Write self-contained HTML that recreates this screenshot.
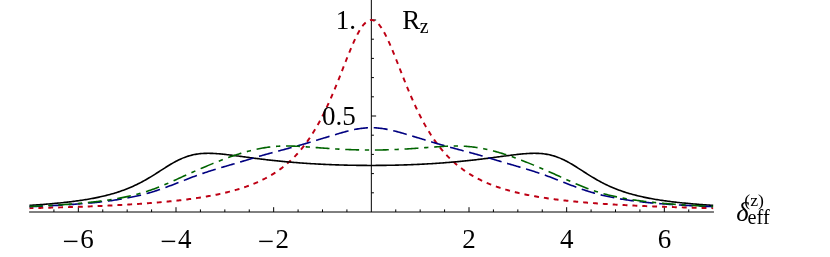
<!DOCTYPE html>
<html><head><meta charset="utf-8"><title>plot</title>
<style>html,body{margin:0;padding:0;background:#fff;}body{width:830px;height:257px;position:relative;overflow:hidden;font-family:"Liberation Serif",serif;}</style>
</head><body>
<svg width="830" height="257" viewBox="0 0 830 257" style="position:absolute;left:0;top:0;will-change:transform">
<g stroke="#000" stroke-width="1" fill="none">
<line x1="29.10" y1="212.00" x2="713.96" y2="212.00"/>
<line x1="371.33" y1="0" x2="371.33" y2="212.00"/>
<line x1="53.92" y1="212.00" x2="53.92" y2="209.40"/>
<line x1="78.33" y1="212.00" x2="78.33" y2="207.20"/>
<line x1="102.75" y1="212.00" x2="102.75" y2="209.40"/>
<line x1="127.16" y1="212.00" x2="127.16" y2="209.40"/>
<line x1="151.58" y1="212.00" x2="151.58" y2="209.40"/>
<line x1="176.00" y1="212.00" x2="176.00" y2="207.20"/>
<line x1="200.41" y1="212.00" x2="200.41" y2="209.40"/>
<line x1="224.83" y1="212.00" x2="224.83" y2="209.40"/>
<line x1="249.25" y1="212.00" x2="249.25" y2="209.40"/>
<line x1="273.66" y1="212.00" x2="273.66" y2="207.20"/>
<line x1="298.08" y1="212.00" x2="298.08" y2="209.40"/>
<line x1="322.50" y1="212.00" x2="322.50" y2="209.40"/>
<line x1="346.91" y1="212.00" x2="346.91" y2="209.40"/>
<line x1="395.75" y1="212.00" x2="395.75" y2="209.40"/>
<line x1="420.16" y1="212.00" x2="420.16" y2="209.40"/>
<line x1="444.58" y1="212.00" x2="444.58" y2="209.40"/>
<line x1="469.00" y1="212.00" x2="469.00" y2="207.20"/>
<line x1="493.41" y1="212.00" x2="493.41" y2="209.40"/>
<line x1="517.83" y1="212.00" x2="517.83" y2="209.40"/>
<line x1="542.25" y1="212.00" x2="542.25" y2="209.40"/>
<line x1="566.66" y1="212.00" x2="566.66" y2="207.20"/>
<line x1="591.08" y1="212.00" x2="591.08" y2="209.40"/>
<line x1="615.50" y1="212.00" x2="615.50" y2="209.40"/>
<line x1="639.91" y1="212.00" x2="639.91" y2="209.40"/>
<line x1="664.33" y1="212.00" x2="664.33" y2="207.20"/>
<line x1="688.74" y1="212.00" x2="688.74" y2="209.40"/>
<line x1="371.33" y1="192.80" x2="373.93" y2="192.80"/>
<line x1="371.33" y1="173.60" x2="373.93" y2="173.60"/>
<line x1="371.33" y1="154.40" x2="373.93" y2="154.40"/>
<line x1="371.33" y1="135.20" x2="373.93" y2="135.20"/>
<line x1="371.33" y1="116.00" x2="376.13" y2="116.00"/>
<line x1="371.33" y1="96.80" x2="373.93" y2="96.80"/>
<line x1="371.33" y1="77.60" x2="373.93" y2="77.60"/>
<line x1="371.33" y1="58.40" x2="373.93" y2="58.40"/>
<line x1="371.33" y1="39.20" x2="373.93" y2="39.20"/>
<line x1="371.33" y1="20.00" x2="376.13" y2="20.00"/>
</g>
<g fill="none" stroke-linecap="butt" stroke-linejoin="round">
<path d="M29.50,208.16 L30.72,208.13 L31.94,208.11 L33.16,208.08 L34.38,208.05 L35.60,208.02 L36.82,207.99 L38.04,207.96 L39.27,207.94 L40.49,207.91 L41.71,207.88 L42.93,207.85 L44.15,207.82 L45.37,207.79 L46.59,207.75 L47.81,207.72 L49.03,207.69 L50.25,207.66 L51.47,207.63 L52.69,207.59 L53.92,207.56 L55.14,207.53 L56.36,207.49 L57.58,207.46 L58.80,207.42 L60.02,207.39 L61.24,207.35 L62.46,207.32 L63.68,207.28 L64.90,207.24 L66.12,207.21 L67.34,207.17 L68.57,207.13 L69.79,207.09 L71.01,207.05 L72.23,207.02 L73.45,206.98 L74.67,206.93 L75.89,206.89 L77.11,206.85 L78.33,206.81 L79.55,206.77 L80.77,206.73 L81.99,206.68 L83.22,206.64 L84.44,206.59 L85.66,206.55 L86.88,206.50 L88.10,206.46 L89.32,206.41 L90.54,206.36 L91.76,206.32 L92.98,206.27 L94.20,206.22 L95.42,206.17 L96.64,206.12 L97.87,206.07 L99.09,206.02 L100.31,205.96 L101.53,205.91 L102.75,205.86 L103.97,205.80 L105.19,205.75 L106.41,205.69 L107.63,205.63 L108.85,205.58 L110.07,205.52 L111.29,205.46 L112.52,205.40 L113.74,205.34 L114.96,205.28 L116.18,205.22 L117.40,205.15 L118.62,205.09 L119.84,205.02 L121.06,204.96 L122.28,204.89 L123.50,204.82 L124.72,204.76 L125.94,204.69 L127.16,204.62 L128.39,204.54 L129.61,204.47 L130.83,204.40 L132.05,204.32 L133.27,204.25 L134.49,204.17 L135.71,204.09 L136.93,204.01 L138.15,203.93 L139.37,203.85 L140.59,203.77 L141.81,203.68 L143.04,203.60 L144.26,203.51 L145.48,203.42 L146.70,203.34 L147.92,203.25 L149.14,203.15 L150.36,203.06 L151.58,202.96 L152.80,202.87 L154.02,202.77 L155.24,202.67 L156.46,202.57 L157.69,202.47 L158.91,202.36 L160.13,202.26 L161.35,202.15 L162.57,202.04 L163.79,201.93 L165.01,201.81 L166.23,201.70 L167.45,201.58 L168.67,201.46 L169.89,201.34 L171.11,201.22 L172.34,201.09 L173.56,200.97 L174.78,200.84 L176.00,200.71 L177.22,200.57 L178.44,200.44 L179.66,200.30 L180.88,200.16 L182.10,200.01 L183.32,199.87 L184.54,199.72 L185.76,199.56 L186.99,199.41 L188.21,199.25 L189.43,199.09 L190.65,198.93 L191.87,198.76 L193.09,198.59 L194.31,198.42 L195.53,198.25 L196.75,198.07 L197.97,197.88 L199.19,197.70 L200.41,197.51 L201.64,197.32 L202.86,197.12 L204.08,196.92 L205.30,196.71 L206.52,196.50 L207.74,196.29 L208.96,196.07 L210.18,195.85 L211.40,195.63 L212.62,195.39 L213.84,195.16 L215.06,194.92 L216.29,194.67 L217.51,194.42 L218.73,194.17 L219.95,193.90 L221.17,193.64 L222.39,193.36 L223.61,193.08 L224.83,192.80 L226.05,192.51 L227.27,192.21 L228.49,191.91 L229.71,191.60 L230.94,191.28 L232.16,190.95 L233.38,190.62 L234.60,190.28 L235.82,189.93 L237.04,189.58 L238.26,189.21 L239.48,188.84 L240.70,188.46 L241.92,188.07 L243.14,187.67 L244.36,187.26 L245.59,186.84 L246.81,186.41 L248.03,185.97 L249.25,185.52 L250.47,185.05 L251.69,184.58 L252.91,184.10 L254.13,183.60 L255.35,183.09 L256.57,182.56 L257.79,182.03 L259.01,181.48 L260.23,180.91 L261.46,180.33 L262.68,179.73 L263.90,179.12 L265.12,178.50 L266.34,177.85 L267.56,177.19 L268.78,176.51 L270.00,175.81 L271.22,175.09 L272.44,174.36 L273.66,173.60 L274.88,172.82 L276.11,172.02 L277.33,171.20 L278.55,170.35 L279.77,169.48 L280.99,168.59 L282.21,167.66 L283.43,166.72 L284.65,165.74 L285.87,164.74 L287.09,163.71 L288.31,162.64 L289.53,161.55 L290.76,160.42 L291.98,159.26 L293.20,158.07 L294.42,156.84 L295.64,155.57 L296.86,154.27 L298.08,152.92 L299.30,151.54 L300.52,150.11 L301.74,148.65 L302.96,147.14 L304.18,145.58 L305.41,143.98 L306.63,142.32 L307.85,140.62 L309.07,138.87 L310.29,137.07 L311.51,135.22 L312.73,133.31 L313.95,131.35 L315.17,129.33 L316.39,127.26 L317.61,125.12 L318.83,122.93 L320.06,120.68 L321.28,118.37 L322.50,116.00 L323.72,113.57 L324.94,111.08 L326.16,108.53 L327.38,105.92 L328.60,103.26 L329.82,100.53 L331.04,97.76 L332.26,94.93 L333.48,92.05 L334.71,89.12 L335.93,86.15 L337.15,83.14 L338.37,80.10 L339.59,77.03 L340.81,73.93 L342.03,70.82 L343.25,67.71 L344.47,64.59 L345.69,61.49 L346.91,58.40 L348.13,55.35 L349.36,52.33 L350.58,49.37 L351.80,46.48 L353.02,43.67 L354.24,40.95 L355.46,38.34 L356.68,35.85 L357.90,33.50 L359.12,31.29 L360.34,29.25 L361.56,27.38 L362.78,25.71 L364.01,24.22 L365.23,22.95 L366.45,21.90 L367.67,21.07 L368.89,20.48 L370.11,20.12 L371.33,20.00 L372.55,20.12 L373.77,20.48 L374.99,21.07 L376.21,21.90 L377.43,22.95 L378.65,24.22 L379.88,25.71 L381.10,27.38 L382.32,29.25 L383.54,31.29 L384.76,33.50 L385.98,35.85 L387.20,38.34 L388.42,40.95 L389.64,43.67 L390.86,46.48 L392.08,49.37 L393.30,52.33 L394.53,55.35 L395.75,58.40 L396.97,61.49 L398.19,64.59 L399.41,67.71 L400.63,70.82 L401.85,73.93 L403.07,77.03 L404.29,80.10 L405.51,83.14 L406.73,86.15 L407.95,89.12 L409.18,92.05 L410.40,94.93 L411.62,97.76 L412.84,100.53 L414.06,103.26 L415.28,105.92 L416.50,108.53 L417.72,111.08 L418.94,113.57 L420.16,116.00 L421.38,118.37 L422.60,120.68 L423.83,122.93 L425.05,125.12 L426.27,127.26 L427.49,129.33 L428.71,131.35 L429.93,133.31 L431.15,135.22 L432.37,137.07 L433.59,138.87 L434.81,140.62 L436.03,142.32 L437.25,143.98 L438.48,145.58 L439.70,147.14 L440.92,148.65 L442.14,150.11 L443.36,151.54 L444.58,152.92 L445.80,154.27 L447.02,155.57 L448.24,156.84 L449.46,158.07 L450.68,159.26 L451.90,160.42 L453.13,161.55 L454.35,162.64 L455.57,163.71 L456.79,164.74 L458.01,165.74 L459.23,166.72 L460.45,167.66 L461.67,168.59 L462.89,169.48 L464.11,170.35 L465.33,171.20 L466.55,172.02 L467.78,172.82 L469.00,173.60 L470.22,174.36 L471.44,175.09 L472.66,175.81 L473.88,176.51 L475.10,177.19 L476.32,177.85 L477.54,178.50 L478.76,179.12 L479.98,179.73 L481.20,180.33 L482.43,180.91 L483.65,181.48 L484.87,182.03 L486.09,182.56 L487.31,183.09 L488.53,183.60 L489.75,184.10 L490.97,184.58 L492.19,185.05 L493.41,185.52 L494.63,185.97 L495.85,186.41 L497.07,186.84 L498.30,187.26 L499.52,187.67 L500.74,188.07 L501.96,188.46 L503.18,188.84 L504.40,189.21 L505.62,189.58 L506.84,189.93 L508.06,190.28 L509.28,190.62 L510.50,190.95 L511.72,191.28 L512.95,191.60 L514.17,191.91 L515.39,192.21 L516.61,192.51 L517.83,192.80 L519.05,193.08 L520.27,193.36 L521.49,193.64 L522.71,193.90 L523.93,194.17 L525.15,194.42 L526.37,194.67 L527.60,194.92 L528.82,195.16 L530.04,195.39 L531.26,195.63 L532.48,195.85 L533.70,196.07 L534.92,196.29 L536.14,196.50 L537.36,196.71 L538.58,196.92 L539.80,197.12 L541.02,197.32 L542.25,197.51 L543.47,197.70 L544.69,197.88 L545.91,198.07 L547.13,198.25 L548.35,198.42 L549.57,198.59 L550.79,198.76 L552.01,198.93 L553.23,199.09 L554.45,199.25 L555.67,199.41 L556.90,199.56 L558.12,199.72 L559.34,199.87 L560.56,200.01 L561.78,200.16 L563.00,200.30 L564.22,200.44 L565.44,200.57 L566.66,200.71 L567.88,200.84 L569.10,200.97 L570.32,201.09 L571.55,201.22 L572.77,201.34 L573.99,201.46 L575.21,201.58 L576.43,201.70 L577.65,201.81 L578.87,201.93 L580.09,202.04 L581.31,202.15 L582.53,202.26 L583.75,202.36 L584.97,202.47 L586.20,202.57 L587.42,202.67 L588.64,202.77 L589.86,202.87 L591.08,202.96 L592.30,203.06 L593.52,203.15 L594.74,203.25 L595.96,203.34 L597.18,203.42 L598.40,203.51 L599.62,203.60 L600.85,203.68 L602.07,203.77 L603.29,203.85 L604.51,203.93 L605.73,204.01 L606.95,204.09 L608.17,204.17 L609.39,204.25 L610.61,204.32 L611.83,204.40 L613.05,204.47 L614.27,204.54 L615.50,204.62 L616.72,204.69 L617.94,204.76 L619.16,204.82 L620.38,204.89 L621.60,204.96 L622.82,205.02 L624.04,205.09 L625.26,205.15 L626.48,205.22 L627.70,205.28 L628.92,205.34 L630.14,205.40 L631.37,205.46 L632.59,205.52 L633.81,205.58 L635.03,205.63 L636.25,205.69 L637.47,205.75 L638.69,205.80 L639.91,205.86 L641.13,205.91 L642.35,205.96 L643.57,206.02 L644.79,206.07 L646.02,206.12 L647.24,206.17 L648.46,206.22 L649.68,206.27 L650.90,206.32 L652.12,206.36 L653.34,206.41 L654.56,206.46 L655.78,206.50 L657.00,206.55 L658.22,206.59 L659.44,206.64 L660.67,206.68 L661.89,206.73 L663.11,206.77 L664.33,206.81 L665.55,206.85 L666.77,206.89 L667.99,206.93 L669.21,206.98 L670.43,207.02 L671.65,207.05 L672.87,207.09 L674.09,207.13 L675.32,207.17 L676.54,207.21 L677.76,207.24 L678.98,207.28 L680.20,207.32 L681.42,207.35 L682.64,207.39 L683.86,207.42 L685.08,207.46 L686.30,207.49 L687.52,207.53 L688.74,207.56 L689.97,207.59 L691.19,207.63 L692.41,207.66 L693.63,207.69 L694.85,207.72 L696.07,207.75 L697.29,207.79 L698.51,207.82 L699.73,207.85 L700.95,207.88 L702.17,207.91 L703.39,207.94 L704.62,207.96 L705.84,207.99 L707.06,208.02 L708.28,208.05 L709.50,208.08 L710.72,208.11 L711.94,208.13 L713.16,208.16" stroke="#BE0014" stroke-width="1.95" stroke-dasharray="4.9 4.98" stroke-dashoffset="1.0"/>
<path d="M29.50,205.35 L30.72,205.27 L31.94,205.19 L33.16,205.12 L34.38,205.04 L35.60,204.95 L36.82,204.87 L38.04,204.78 L39.27,204.70 L40.49,204.61 L41.71,204.52 L42.93,204.43 L44.15,204.33 L45.37,204.24 L46.59,204.14 L47.81,204.04 L49.03,203.94 L50.25,203.84 L51.47,203.73 L52.69,203.63 L53.92,203.52 L55.14,203.40 L56.36,203.29 L57.58,203.17 L58.80,203.05 L60.02,202.93 L61.24,202.81 L62.46,202.68 L63.68,202.55 L64.90,202.42 L66.12,202.28 L67.34,202.14 L68.57,202.00 L69.79,201.86 L71.01,201.71 L72.23,201.56 L73.45,201.40 L74.67,201.24 L75.89,201.08 L77.11,200.91 L78.33,200.74 L79.55,200.57 L80.77,200.39 L81.99,200.21 L83.22,200.02 L84.44,199.83 L85.66,199.63 L86.88,199.43 L88.10,199.22 L89.32,199.01 L90.54,198.79 L91.76,198.57 L92.98,198.34 L94.20,198.11 L95.42,197.87 L96.64,197.62 L97.87,197.37 L99.09,197.11 L100.31,196.84 L101.53,196.57 L102.75,196.29 L103.97,196.00 L105.19,195.71 L106.41,195.40 L107.63,195.09 L108.85,194.77 L110.07,194.44 L111.29,194.10 L112.52,193.75 L113.74,193.40 L114.96,193.03 L116.18,192.65 L117.40,192.26 L118.62,191.87 L119.84,191.46 L121.06,191.04 L122.28,190.61 L123.50,190.16 L124.72,189.71 L125.94,189.24 L127.16,188.76 L128.39,188.27 L129.61,187.76 L130.83,187.24 L132.05,186.71 L133.27,186.16 L134.49,185.60 L135.71,185.03 L136.93,184.44 L138.15,183.84 L139.37,183.22 L140.59,182.59 L141.81,181.95 L143.04,181.29 L144.26,180.62 L145.48,179.93 L146.70,179.24 L147.92,178.53 L149.14,177.81 L150.36,177.08 L151.58,176.33 L152.80,175.58 L154.02,174.82 L155.24,174.06 L156.46,173.28 L157.69,172.50 L158.91,171.72 L160.13,170.94 L161.35,170.15 L162.57,169.37 L163.79,168.59 L165.01,167.81 L166.23,167.04 L167.45,166.27 L168.67,165.52 L169.89,164.78 L171.11,164.05 L172.34,163.34 L173.56,162.64 L174.78,161.96 L176.00,161.31 L177.22,160.67 L178.44,160.06 L179.66,159.47 L180.88,158.91 L182.10,158.38 L183.32,157.87 L184.54,157.39 L185.76,156.94 L186.99,156.51 L188.21,156.12 L189.43,155.75 L190.65,155.41 L191.87,155.10 L193.09,154.82 L194.31,154.57 L195.53,154.34 L196.75,154.13 L197.97,153.96 L199.19,153.80 L200.41,153.67 L201.64,153.56 L202.86,153.47 L204.08,153.41 L205.30,153.36 L206.52,153.33 L207.74,153.31 L208.96,153.32 L210.18,153.33 L211.40,153.37 L212.62,153.41 L213.84,153.47 L215.06,153.54 L216.29,153.62 L217.51,153.71 L218.73,153.80 L219.95,153.91 L221.17,154.02 L222.39,154.14 L223.61,154.27 L224.83,154.40 L226.05,154.54 L227.27,154.68 L228.49,154.82 L229.71,154.97 L230.94,155.12 L232.16,155.28 L233.38,155.44 L234.60,155.59 L235.82,155.76 L237.04,155.92 L238.26,156.08 L239.48,156.24 L240.70,156.41 L241.92,156.57 L243.14,156.74 L244.36,156.90 L245.59,157.07 L246.81,157.23 L248.03,157.39 L249.25,157.55 L250.47,157.72 L251.69,157.88 L252.91,158.04 L254.13,158.19 L255.35,158.35 L256.57,158.51 L257.79,158.66 L259.01,158.81 L260.23,158.97 L261.46,159.12 L262.68,159.26 L263.90,159.41 L265.12,159.56 L266.34,159.70 L267.56,159.84 L268.78,159.98 L270.00,160.12 L271.22,160.25 L272.44,160.39 L273.66,160.52 L274.88,160.65 L276.11,160.78 L277.33,160.90 L278.55,161.03 L279.77,161.15 L280.99,161.27 L282.21,161.39 L283.43,161.51 L284.65,161.62 L285.87,161.73 L287.09,161.85 L288.31,161.95 L289.53,162.06 L290.76,162.17 L291.98,162.27 L293.20,162.37 L294.42,162.47 L295.64,162.57 L296.86,162.67 L298.08,162.76 L299.30,162.85 L300.52,162.94 L301.74,163.03 L302.96,163.12 L304.18,163.20 L305.41,163.29 L306.63,163.37 L307.85,163.45 L309.07,163.53 L310.29,163.60 L311.51,163.68 L312.73,163.75 L313.95,163.82 L315.17,163.89 L316.39,163.96 L317.61,164.03 L318.83,164.09 L320.06,164.16 L321.28,164.22 L322.50,164.28 L323.72,164.34 L324.94,164.39 L326.16,164.45 L327.38,164.50 L328.60,164.55 L329.82,164.60 L331.04,164.65 L332.26,164.70 L333.48,164.75 L334.71,164.79 L335.93,164.83 L337.15,164.87 L338.37,164.91 L339.59,164.95 L340.81,164.99 L342.03,165.02 L343.25,165.06 L344.47,165.09 L345.69,165.12 L346.91,165.15 L348.13,165.18 L349.36,165.20 L350.58,165.23 L351.80,165.25 L353.02,165.27 L354.24,165.29 L355.46,165.31 L356.68,165.33 L357.90,165.35 L359.12,165.36 L360.34,165.38 L361.56,165.39 L362.78,165.40 L364.01,165.41 L365.23,165.42 L366.45,165.42 L367.67,165.43 L368.89,165.43 L370.11,165.43 L371.33,165.43 L372.55,165.43 L373.77,165.43 L374.99,165.43 L376.21,165.42 L377.43,165.42 L378.65,165.41 L379.88,165.40 L381.10,165.39 L382.32,165.38 L383.54,165.36 L384.76,165.35 L385.98,165.33 L387.20,165.31 L388.42,165.29 L389.64,165.27 L390.86,165.25 L392.08,165.23 L393.30,165.20 L394.53,165.18 L395.75,165.15 L396.97,165.12 L398.19,165.09 L399.41,165.06 L400.63,165.02 L401.85,164.99 L403.07,164.95 L404.29,164.91 L405.51,164.87 L406.73,164.83 L407.95,164.79 L409.18,164.75 L410.40,164.70 L411.62,164.65 L412.84,164.60 L414.06,164.55 L415.28,164.50 L416.50,164.45 L417.72,164.39 L418.94,164.34 L420.16,164.28 L421.38,164.22 L422.60,164.16 L423.83,164.09 L425.05,164.03 L426.27,163.96 L427.49,163.89 L428.71,163.82 L429.93,163.75 L431.15,163.68 L432.37,163.60 L433.59,163.53 L434.81,163.45 L436.03,163.37 L437.25,163.29 L438.48,163.20 L439.70,163.12 L440.92,163.03 L442.14,162.94 L443.36,162.85 L444.58,162.76 L445.80,162.67 L447.02,162.57 L448.24,162.47 L449.46,162.37 L450.68,162.27 L451.90,162.17 L453.13,162.06 L454.35,161.95 L455.57,161.85 L456.79,161.73 L458.01,161.62 L459.23,161.51 L460.45,161.39 L461.67,161.27 L462.89,161.15 L464.11,161.03 L465.33,160.90 L466.55,160.78 L467.78,160.65 L469.00,160.52 L470.22,160.39 L471.44,160.25 L472.66,160.12 L473.88,159.98 L475.10,159.84 L476.32,159.70 L477.54,159.56 L478.76,159.41 L479.98,159.26 L481.20,159.12 L482.43,158.97 L483.65,158.81 L484.87,158.66 L486.09,158.51 L487.31,158.35 L488.53,158.19 L489.75,158.04 L490.97,157.88 L492.19,157.72 L493.41,157.55 L494.63,157.39 L495.85,157.23 L497.07,157.07 L498.30,156.90 L499.52,156.74 L500.74,156.57 L501.96,156.41 L503.18,156.24 L504.40,156.08 L505.62,155.92 L506.84,155.76 L508.06,155.59 L509.28,155.44 L510.50,155.28 L511.72,155.12 L512.95,154.97 L514.17,154.82 L515.39,154.68 L516.61,154.54 L517.83,154.40 L519.05,154.27 L520.27,154.14 L521.49,154.02 L522.71,153.91 L523.93,153.80 L525.15,153.71 L526.37,153.62 L527.60,153.54 L528.82,153.47 L530.04,153.41 L531.26,153.37 L532.48,153.33 L533.70,153.32 L534.92,153.31 L536.14,153.33 L537.36,153.36 L538.58,153.41 L539.80,153.47 L541.02,153.56 L542.25,153.67 L543.47,153.80 L544.69,153.96 L545.91,154.13 L547.13,154.34 L548.35,154.57 L549.57,154.82 L550.79,155.10 L552.01,155.41 L553.23,155.75 L554.45,156.12 L555.67,156.51 L556.90,156.94 L558.12,157.39 L559.34,157.87 L560.56,158.38 L561.78,158.91 L563.00,159.47 L564.22,160.06 L565.44,160.67 L566.66,161.31 L567.88,161.96 L569.10,162.64 L570.32,163.34 L571.55,164.05 L572.77,164.78 L573.99,165.52 L575.21,166.27 L576.43,167.04 L577.65,167.81 L578.87,168.59 L580.09,169.37 L581.31,170.15 L582.53,170.94 L583.75,171.72 L584.97,172.50 L586.20,173.28 L587.42,174.06 L588.64,174.82 L589.86,175.58 L591.08,176.33 L592.30,177.08 L593.52,177.81 L594.74,178.53 L595.96,179.24 L597.18,179.93 L598.40,180.62 L599.62,181.29 L600.85,181.95 L602.07,182.59 L603.29,183.22 L604.51,183.84 L605.73,184.44 L606.95,185.03 L608.17,185.60 L609.39,186.16 L610.61,186.71 L611.83,187.24 L613.05,187.76 L614.27,188.27 L615.50,188.76 L616.72,189.24 L617.94,189.71 L619.16,190.16 L620.38,190.61 L621.60,191.04 L622.82,191.46 L624.04,191.87 L625.26,192.26 L626.48,192.65 L627.70,193.03 L628.92,193.40 L630.14,193.75 L631.37,194.10 L632.59,194.44 L633.81,194.77 L635.03,195.09 L636.25,195.40 L637.47,195.71 L638.69,196.00 L639.91,196.29 L641.13,196.57 L642.35,196.84 L643.57,197.11 L644.79,197.37 L646.02,197.62 L647.24,197.87 L648.46,198.11 L649.68,198.34 L650.90,198.57 L652.12,198.79 L653.34,199.01 L654.56,199.22 L655.78,199.43 L657.00,199.63 L658.22,199.83 L659.44,200.02 L660.67,200.21 L661.89,200.39 L663.11,200.57 L664.33,200.74 L665.55,200.91 L666.77,201.08 L667.99,201.24 L669.21,201.40 L670.43,201.56 L671.65,201.71 L672.87,201.86 L674.09,202.00 L675.32,202.14 L676.54,202.28 L677.76,202.42 L678.98,202.55 L680.20,202.68 L681.42,202.81 L682.64,202.93 L683.86,203.05 L685.08,203.17 L686.30,203.29 L687.52,203.40 L688.74,203.52 L689.97,203.63 L691.19,203.73 L692.41,203.84 L693.63,203.94 L694.85,204.04 L696.07,204.14 L697.29,204.24 L698.51,204.33 L699.73,204.43 L700.95,204.52 L702.17,204.61 L703.39,204.70 L704.62,204.78 L705.84,204.87 L707.06,204.95 L708.28,205.04 L709.50,205.12 L710.72,205.19 L711.94,205.27 L713.16,205.35" stroke="#000" stroke-width="1.6"/>
<path d="M29.50,206.62 L30.72,206.58 L31.94,206.53 L33.16,206.48 L34.38,206.43 L35.60,206.38 L36.82,206.33 L38.04,206.28 L39.27,206.23 L40.49,206.17 L41.71,206.12 L42.93,206.06 L44.15,206.01 L45.37,205.95 L46.59,205.89 L47.81,205.84 L49.03,205.78 L50.25,205.72 L51.47,205.65 L52.69,205.59 L53.92,205.53 L55.14,205.46 L56.36,205.40 L57.58,205.33 L58.80,205.26 L60.02,205.19 L61.24,205.12 L62.46,205.05 L63.68,204.97 L64.90,204.90 L66.12,204.82 L67.34,204.75 L68.57,204.67 L69.79,204.59 L71.01,204.50 L72.23,204.42 L73.45,204.33 L74.67,204.25 L75.89,204.16 L77.11,204.07 L78.33,203.98 L79.55,203.88 L80.77,203.79 L81.99,203.69 L83.22,203.59 L84.44,203.49 L85.66,203.38 L86.88,203.28 L88.10,203.17 L89.32,203.06 L90.54,202.94 L91.76,202.83 L92.98,202.71 L94.20,202.59 L95.42,202.47 L96.64,202.34 L97.87,202.21 L99.09,202.08 L100.31,201.95 L101.53,201.81 L102.75,201.67 L103.97,201.53 L105.19,201.38 L106.41,201.23 L107.63,201.07 L108.85,200.92 L110.07,200.76 L111.29,200.59 L112.52,200.42 L113.74,200.25 L114.96,200.07 L116.18,199.89 L117.40,199.71 L118.62,199.51 L119.84,199.32 L121.06,199.12 L122.28,198.92 L123.50,198.71 L124.72,198.49 L125.94,198.27 L127.16,198.05 L128.39,197.81 L129.61,197.58 L130.83,197.33 L132.05,197.08 L133.27,196.83 L134.49,196.57 L135.71,196.30 L136.93,196.02 L138.15,195.74 L139.37,195.45 L140.59,195.16 L141.81,194.86 L143.04,194.55 L144.26,194.23 L145.48,193.90 L146.70,193.57 L147.92,193.23 L149.14,192.88 L150.36,192.53 L151.58,192.16 L152.80,191.79 L154.02,191.42 L155.24,191.03 L156.46,190.63 L157.69,190.23 L158.91,189.82 L160.13,189.41 L161.35,188.99 L162.57,188.56 L163.79,188.12 L165.01,187.68 L166.23,187.23 L167.45,186.78 L168.67,186.32 L169.89,185.86 L171.11,185.39 L172.34,184.92 L173.56,184.44 L174.78,183.97 L176.00,183.49 L177.22,183.01 L178.44,182.53 L179.66,182.04 L180.88,181.56 L182.10,181.08 L183.32,180.60 L184.54,180.12 L185.76,179.65 L186.99,179.17 L188.21,178.70 L189.43,178.24 L190.65,177.77 L191.87,177.31 L193.09,176.86 L194.31,176.41 L195.53,175.96 L196.75,175.52 L197.97,175.08 L199.19,174.65 L200.41,174.22 L201.64,173.80 L202.86,173.38 L204.08,172.97 L205.30,172.56 L206.52,172.15 L207.74,171.75 L208.96,171.36 L210.18,170.97 L211.40,170.58 L212.62,170.20 L213.84,169.82 L215.06,169.44 L216.29,169.06 L217.51,168.69 L218.73,168.33 L219.95,167.96 L221.17,167.60 L222.39,167.23 L223.61,166.87 L224.83,166.51 L226.05,166.16 L227.27,165.80 L228.49,165.44 L229.71,165.08 L230.94,164.73 L232.16,164.37 L233.38,164.01 L234.60,163.66 L235.82,163.30 L237.04,162.94 L238.26,162.58 L239.48,162.22 L240.70,161.86 L241.92,161.49 L243.14,161.13 L244.36,160.77 L245.59,160.40 L246.81,160.03 L248.03,159.67 L249.25,159.30 L250.47,158.94 L251.69,158.57 L252.91,158.21 L254.13,157.84 L255.35,157.48 L256.57,157.12 L257.79,156.76 L259.01,156.40 L260.23,156.04 L261.46,155.69 L262.68,155.34 L263.90,154.99 L265.12,154.64 L266.34,154.30 L267.56,153.95 L268.78,153.62 L270.00,153.28 L271.22,152.94 L272.44,152.61 L273.66,152.28 L274.88,151.96 L276.11,151.63 L277.33,151.31 L278.55,150.98 L279.77,150.66 L280.99,150.34 L282.21,150.01 L283.43,149.69 L284.65,149.37 L285.87,149.04 L287.09,148.72 L288.31,148.39 L289.53,148.07 L290.76,147.74 L291.98,147.41 L293.20,147.07 L294.42,146.74 L295.64,146.40 L296.86,146.06 L298.08,145.72 L299.30,145.37 L300.52,145.02 L301.74,144.67 L302.96,144.32 L304.18,143.97 L305.41,143.61 L306.63,143.25 L307.85,142.89 L309.07,142.53 L310.29,142.17 L311.51,141.80 L312.73,141.43 L313.95,141.07 L315.17,140.70 L316.39,140.33 L317.61,139.96 L318.83,139.59 L320.06,139.22 L321.28,138.85 L322.50,138.48 L323.72,138.10 L324.94,137.73 L326.16,137.36 L327.38,136.99 L328.60,136.62 L329.82,136.25 L331.04,135.88 L332.26,135.51 L333.48,135.14 L334.71,134.77 L335.93,134.41 L337.15,134.04 L338.37,133.68 L339.59,133.33 L340.81,132.98 L342.03,132.63 L343.25,132.29 L344.47,131.95 L345.69,131.62 L346.91,131.30 L348.13,130.99 L349.36,130.69 L350.58,130.39 L351.80,130.11 L353.02,129.84 L354.24,129.58 L355.46,129.34 L356.68,129.11 L357.90,128.89 L359.12,128.70 L360.34,128.51 L361.56,128.35 L362.78,128.20 L364.01,128.08 L365.23,127.97 L366.45,127.88 L367.67,127.81 L368.89,127.76 L370.11,127.73 L371.33,127.72 L372.55,127.73 L373.77,127.76 L374.99,127.81 L376.21,127.88 L377.43,127.97 L378.65,128.08 L379.88,128.20 L381.10,128.35 L382.32,128.51 L383.54,128.70 L384.76,128.89 L385.98,129.11 L387.20,129.34 L388.42,129.58 L389.64,129.84 L390.86,130.11 L392.08,130.39 L393.30,130.69 L394.53,130.99 L395.75,131.30 L396.97,131.62 L398.19,131.95 L399.41,132.29 L400.63,132.63 L401.85,132.98 L403.07,133.33 L404.29,133.68 L405.51,134.04 L406.73,134.41 L407.95,134.77 L409.18,135.14 L410.40,135.51 L411.62,135.88 L412.84,136.25 L414.06,136.62 L415.28,136.99 L416.50,137.36 L417.72,137.73 L418.94,138.10 L420.16,138.48 L421.38,138.85 L422.60,139.22 L423.83,139.59 L425.05,139.96 L426.27,140.33 L427.49,140.70 L428.71,141.07 L429.93,141.43 L431.15,141.80 L432.37,142.17 L433.59,142.53 L434.81,142.89 L436.03,143.25 L437.25,143.61 L438.48,143.97 L439.70,144.32 L440.92,144.67 L442.14,145.02 L443.36,145.37 L444.58,145.72 L445.80,146.06 L447.02,146.40 L448.24,146.74 L449.46,147.07 L450.68,147.41 L451.90,147.74 L453.13,148.07 L454.35,148.39 L455.57,148.72 L456.79,149.04 L458.01,149.37 L459.23,149.69 L460.45,150.01 L461.67,150.34 L462.89,150.66 L464.11,150.98 L465.33,151.31 L466.55,151.63 L467.78,151.96 L469.00,152.28 L470.22,152.61 L471.44,152.94 L472.66,153.28 L473.88,153.62 L475.10,153.95 L476.32,154.30 L477.54,154.64 L478.76,154.99 L479.98,155.34 L481.20,155.69 L482.43,156.04 L483.65,156.40 L484.87,156.76 L486.09,157.12 L487.31,157.48 L488.53,157.84 L489.75,158.21 L490.97,158.57 L492.19,158.94 L493.41,159.30 L494.63,159.67 L495.85,160.03 L497.07,160.40 L498.30,160.77 L499.52,161.13 L500.74,161.49 L501.96,161.86 L503.18,162.22 L504.40,162.58 L505.62,162.94 L506.84,163.30 L508.06,163.66 L509.28,164.01 L510.50,164.37 L511.72,164.73 L512.95,165.08 L514.17,165.44 L515.39,165.80 L516.61,166.16 L517.83,166.51 L519.05,166.87 L520.27,167.23 L521.49,167.60 L522.71,167.96 L523.93,168.33 L525.15,168.69 L526.37,169.06 L527.60,169.44 L528.82,169.82 L530.04,170.20 L531.26,170.58 L532.48,170.97 L533.70,171.36 L534.92,171.75 L536.14,172.15 L537.36,172.56 L538.58,172.97 L539.80,173.38 L541.02,173.80 L542.25,174.22 L543.47,174.65 L544.69,175.08 L545.91,175.52 L547.13,175.96 L548.35,176.41 L549.57,176.86 L550.79,177.31 L552.01,177.77 L553.23,178.24 L554.45,178.70 L555.67,179.17 L556.90,179.65 L558.12,180.12 L559.34,180.60 L560.56,181.08 L561.78,181.56 L563.00,182.04 L564.22,182.53 L565.44,183.01 L566.66,183.49 L567.88,183.97 L569.10,184.44 L570.32,184.92 L571.55,185.39 L572.77,185.86 L573.99,186.32 L575.21,186.78 L576.43,187.23 L577.65,187.68 L578.87,188.12 L580.09,188.56 L581.31,188.99 L582.53,189.41 L583.75,189.82 L584.97,190.23 L586.20,190.63 L587.42,191.03 L588.64,191.42 L589.86,191.79 L591.08,192.16 L592.30,192.53 L593.52,192.88 L594.74,193.23 L595.96,193.57 L597.18,193.90 L598.40,194.23 L599.62,194.55 L600.85,194.86 L602.07,195.16 L603.29,195.45 L604.51,195.74 L605.73,196.02 L606.95,196.30 L608.17,196.57 L609.39,196.83 L610.61,197.08 L611.83,197.33 L613.05,197.58 L614.27,197.81 L615.50,198.05 L616.72,198.27 L617.94,198.49 L619.16,198.71 L620.38,198.92 L621.60,199.12 L622.82,199.32 L624.04,199.51 L625.26,199.71 L626.48,199.89 L627.70,200.07 L628.92,200.25 L630.14,200.42 L631.37,200.59 L632.59,200.76 L633.81,200.92 L635.03,201.07 L636.25,201.23 L637.47,201.38 L638.69,201.53 L639.91,201.67 L641.13,201.81 L642.35,201.95 L643.57,202.08 L644.79,202.21 L646.02,202.34 L647.24,202.47 L648.46,202.59 L649.68,202.71 L650.90,202.83 L652.12,202.94 L653.34,203.06 L654.56,203.17 L655.78,203.28 L657.00,203.38 L658.22,203.49 L659.44,203.59 L660.67,203.69 L661.89,203.79 L663.11,203.88 L664.33,203.98 L665.55,204.07 L666.77,204.16 L667.99,204.25 L669.21,204.33 L670.43,204.42 L671.65,204.50 L672.87,204.59 L674.09,204.67 L675.32,204.75 L676.54,204.82 L677.76,204.90 L678.98,204.97 L680.20,205.05 L681.42,205.12 L682.64,205.19 L683.86,205.26 L685.08,205.33 L686.30,205.40 L687.52,205.46 L688.74,205.53 L689.97,205.59 L691.19,205.65 L692.41,205.72 L693.63,205.78 L694.85,205.84 L696.07,205.89 L697.29,205.95 L698.51,206.01 L699.73,206.06 L700.95,206.12 L702.17,206.17 L703.39,206.23 L704.62,206.28 L705.84,206.33 L707.06,206.38 L708.28,206.43 L709.50,206.48 L710.72,206.53 L711.94,206.58 L713.16,206.62" stroke="#000080" stroke-width="1.6" stroke-dasharray="14 5.75" stroke-dashoffset="0.4"/>
<path d="M29.50,206.45 L30.72,206.40 L31.94,206.34 L33.16,206.29 L34.38,206.23 L35.60,206.18 L36.82,206.12 L38.04,206.06 L39.27,206.00 L40.49,205.94 L41.71,205.88 L42.93,205.82 L44.15,205.76 L45.37,205.70 L46.59,205.63 L47.81,205.57 L49.03,205.50 L50.25,205.43 L51.47,205.36 L52.69,205.29 L53.92,205.22 L55.14,205.15 L56.36,205.07 L57.58,205.00 L58.80,204.92 L60.02,204.84 L61.24,204.76 L62.46,204.68 L63.68,204.60 L64.90,204.51 L66.12,204.42 L67.34,204.34 L68.57,204.25 L69.79,204.16 L71.01,204.06 L72.23,203.97 L73.45,203.87 L74.67,203.77 L75.89,203.67 L77.11,203.57 L78.33,203.46 L79.55,203.36 L80.77,203.25 L81.99,203.14 L83.22,203.02 L84.44,202.91 L85.66,202.79 L86.88,202.67 L88.10,202.54 L89.32,202.42 L90.54,202.29 L91.76,202.15 L92.98,202.02 L94.20,201.88 L95.42,201.74 L96.64,201.60 L97.87,201.45 L99.09,201.30 L100.31,201.14 L101.53,200.99 L102.75,200.82 L103.97,200.66 L105.19,200.49 L106.41,200.32 L107.63,200.14 L108.85,199.96 L110.07,199.77 L111.29,199.58 L112.52,199.39 L113.74,199.19 L114.96,198.98 L116.18,198.77 L117.40,198.56 L118.62,198.34 L119.84,198.11 L121.06,197.88 L122.28,197.64 L123.50,197.40 L124.72,197.15 L125.94,196.89 L127.16,196.63 L128.39,196.36 L129.61,196.09 L130.83,195.80 L132.05,195.51 L133.27,195.22 L134.49,194.91 L135.71,194.60 L136.93,194.28 L138.15,193.95 L139.37,193.61 L140.59,193.27 L141.81,192.91 L143.04,192.55 L144.26,192.18 L145.48,191.80 L146.70,191.41 L147.92,191.02 L149.14,190.61 L150.36,190.19 L151.58,189.77 L152.80,189.34 L154.02,188.89 L155.24,188.44 L156.46,187.98 L157.69,187.52 L158.91,187.04 L160.13,186.55 L161.35,186.06 L162.57,185.56 L163.79,185.05 L165.01,184.54 L166.23,184.02 L167.45,183.49 L168.67,182.96 L169.89,182.42 L171.11,181.87 L172.34,181.33 L173.56,180.78 L174.78,180.22 L176.00,179.67 L177.22,179.11 L178.44,178.55 L179.66,177.99 L180.88,177.43 L182.10,176.87 L183.32,176.31 L184.54,175.76 L185.76,175.20 L186.99,174.65 L188.21,174.10 L189.43,173.55 L190.65,173.00 L191.87,172.45 L193.09,171.91 L194.31,171.37 L195.53,170.84 L196.75,170.31 L197.97,169.78 L199.19,169.25 L200.41,168.72 L201.64,168.20 L202.86,167.68 L204.08,167.17 L205.30,166.65 L206.52,166.14 L207.74,165.63 L208.96,165.13 L210.18,164.62 L211.40,164.12 L212.62,163.62 L213.84,163.12 L215.06,162.63 L216.29,162.14 L217.51,161.65 L218.73,161.17 L219.95,160.69 L221.17,160.21 L222.39,159.74 L223.61,159.27 L224.83,158.81 L226.05,158.36 L227.27,157.90 L228.49,157.46 L229.71,157.02 L230.94,156.59 L232.16,156.16 L233.38,155.74 L234.60,155.33 L235.82,154.93 L237.04,154.53 L238.26,154.14 L239.48,153.76 L240.70,153.38 L241.92,153.01 L243.14,152.66 L244.36,152.30 L245.59,151.96 L246.81,151.62 L248.03,151.30 L249.25,150.98 L250.47,150.67 L251.69,150.36 L252.91,150.07 L254.13,149.79 L255.35,149.51 L256.57,149.24 L257.79,148.98 L259.01,148.74 L260.23,148.50 L261.46,148.27 L262.68,148.05 L263.90,147.84 L265.12,147.64 L266.34,147.46 L267.56,147.28 L268.78,147.12 L270.00,146.97 L271.22,146.82 L272.44,146.69 L273.66,146.58 L274.88,146.47 L276.11,146.37 L277.33,146.29 L278.55,146.22 L279.77,146.16 L280.99,146.11 L282.21,146.07 L283.43,146.03 L284.65,146.01 L285.87,146.00 L287.09,146.00 L288.31,146.01 L289.53,146.02 L290.76,146.05 L291.98,146.08 L293.20,146.11 L294.42,146.16 L295.64,146.21 L296.86,146.26 L298.08,146.32 L299.30,146.39 L300.52,146.46 L301.74,146.53 L302.96,146.61 L304.18,146.69 L305.41,146.77 L306.63,146.85 L307.85,146.94 L309.07,147.03 L310.29,147.12 L311.51,147.21 L312.73,147.30 L313.95,147.39 L315.17,147.49 L316.39,147.58 L317.61,147.67 L318.83,147.77 L320.06,147.86 L321.28,147.95 L322.50,148.04 L323.72,148.13 L324.94,148.22 L326.16,148.31 L327.38,148.39 L328.60,148.48 L329.82,148.56 L331.04,148.64 L332.26,148.72 L333.48,148.80 L334.71,148.87 L335.93,148.95 L337.15,149.02 L338.37,149.09 L339.59,149.16 L340.81,149.22 L342.03,149.28 L343.25,149.34 L344.47,149.40 L345.69,149.46 L346.91,149.51 L348.13,149.56 L349.36,149.61 L350.58,149.66 L351.80,149.70 L353.02,149.74 L354.24,149.78 L355.46,149.82 L356.68,149.85 L357.90,149.88 L359.12,149.91 L360.34,149.93 L361.56,149.96 L362.78,149.98 L364.01,149.99 L365.23,150.01 L366.45,150.02 L367.67,150.03 L368.89,150.04 L370.11,150.04 L371.33,150.04 L372.55,150.04 L373.77,150.04 L374.99,150.03 L376.21,150.02 L377.43,150.01 L378.65,149.99 L379.88,149.98 L381.10,149.96 L382.32,149.93 L383.54,149.91 L384.76,149.88 L385.98,149.85 L387.20,149.82 L388.42,149.78 L389.64,149.74 L390.86,149.70 L392.08,149.66 L393.30,149.61 L394.53,149.56 L395.75,149.51 L396.97,149.46 L398.19,149.40 L399.41,149.34 L400.63,149.28 L401.85,149.22 L403.07,149.16 L404.29,149.09 L405.51,149.02 L406.73,148.95 L407.95,148.87 L409.18,148.80 L410.40,148.72 L411.62,148.64 L412.84,148.56 L414.06,148.48 L415.28,148.39 L416.50,148.31 L417.72,148.22 L418.94,148.13 L420.16,148.04 L421.38,147.95 L422.60,147.86 L423.83,147.77 L425.05,147.67 L426.27,147.58 L427.49,147.49 L428.71,147.39 L429.93,147.30 L431.15,147.21 L432.37,147.12 L433.59,147.03 L434.81,146.94 L436.03,146.85 L437.25,146.77 L438.48,146.69 L439.70,146.61 L440.92,146.53 L442.14,146.46 L443.36,146.39 L444.58,146.32 L445.80,146.26 L447.02,146.21 L448.24,146.16 L449.46,146.11 L450.68,146.08 L451.90,146.05 L453.13,146.02 L454.35,146.01 L455.57,146.00 L456.79,146.00 L458.01,146.01 L459.23,146.03 L460.45,146.07 L461.67,146.11 L462.89,146.16 L464.11,146.22 L465.33,146.29 L466.55,146.37 L467.78,146.47 L469.00,146.58 L470.22,146.69 L471.44,146.82 L472.66,146.97 L473.88,147.12 L475.10,147.28 L476.32,147.46 L477.54,147.64 L478.76,147.84 L479.98,148.05 L481.20,148.27 L482.43,148.50 L483.65,148.74 L484.87,148.98 L486.09,149.24 L487.31,149.51 L488.53,149.79 L489.75,150.07 L490.97,150.36 L492.19,150.67 L493.41,150.98 L494.63,151.30 L495.85,151.62 L497.07,151.96 L498.30,152.30 L499.52,152.66 L500.74,153.01 L501.96,153.38 L503.18,153.76 L504.40,154.14 L505.62,154.53 L506.84,154.93 L508.06,155.33 L509.28,155.74 L510.50,156.16 L511.72,156.59 L512.95,157.02 L514.17,157.46 L515.39,157.90 L516.61,158.36 L517.83,158.81 L519.05,159.27 L520.27,159.74 L521.49,160.21 L522.71,160.69 L523.93,161.17 L525.15,161.65 L526.37,162.14 L527.60,162.63 L528.82,163.12 L530.04,163.62 L531.26,164.12 L532.48,164.62 L533.70,165.13 L534.92,165.63 L536.14,166.14 L537.36,166.65 L538.58,167.17 L539.80,167.68 L541.02,168.20 L542.25,168.72 L543.47,169.25 L544.69,169.78 L545.91,170.31 L547.13,170.84 L548.35,171.37 L549.57,171.91 L550.79,172.45 L552.01,173.00 L553.23,173.55 L554.45,174.10 L555.67,174.65 L556.90,175.20 L558.12,175.76 L559.34,176.31 L560.56,176.87 L561.78,177.43 L563.00,177.99 L564.22,178.55 L565.44,179.11 L566.66,179.67 L567.88,180.22 L569.10,180.78 L570.32,181.33 L571.55,181.87 L572.77,182.42 L573.99,182.96 L575.21,183.49 L576.43,184.02 L577.65,184.54 L578.87,185.05 L580.09,185.56 L581.31,186.06 L582.53,186.55 L583.75,187.04 L584.97,187.52 L586.20,187.98 L587.42,188.44 L588.64,188.89 L589.86,189.34 L591.08,189.77 L592.30,190.19 L593.52,190.61 L594.74,191.02 L595.96,191.41 L597.18,191.80 L598.40,192.18 L599.62,192.55 L600.85,192.91 L602.07,193.27 L603.29,193.61 L604.51,193.95 L605.73,194.28 L606.95,194.60 L608.17,194.91 L609.39,195.22 L610.61,195.51 L611.83,195.80 L613.05,196.09 L614.27,196.36 L615.50,196.63 L616.72,196.89 L617.94,197.15 L619.16,197.40 L620.38,197.64 L621.60,197.88 L622.82,198.11 L624.04,198.34 L625.26,198.56 L626.48,198.77 L627.70,198.98 L628.92,199.19 L630.14,199.39 L631.37,199.58 L632.59,199.77 L633.81,199.96 L635.03,200.14 L636.25,200.32 L637.47,200.49 L638.69,200.66 L639.91,200.82 L641.13,200.99 L642.35,201.14 L643.57,201.30 L644.79,201.45 L646.02,201.60 L647.24,201.74 L648.46,201.88 L649.68,202.02 L650.90,202.15 L652.12,202.29 L653.34,202.42 L654.56,202.54 L655.78,202.67 L657.00,202.79 L658.22,202.91 L659.44,203.02 L660.67,203.14 L661.89,203.25 L663.11,203.36 L664.33,203.46 L665.55,203.57 L666.77,203.67 L667.99,203.77 L669.21,203.87 L670.43,203.97 L671.65,204.06 L672.87,204.16 L674.09,204.25 L675.32,204.34 L676.54,204.42 L677.76,204.51 L678.98,204.60 L680.20,204.68 L681.42,204.76 L682.64,204.84 L683.86,204.92 L685.08,205.00 L686.30,205.07 L687.52,205.15 L688.74,205.22 L689.97,205.29 L691.19,205.36 L692.41,205.43 L693.63,205.50 L694.85,205.57 L696.07,205.63 L697.29,205.70 L698.51,205.76 L699.73,205.82 L700.95,205.88 L702.17,205.94 L703.39,206.00 L704.62,206.06 L705.84,206.12 L707.06,206.18 L708.28,206.23 L709.50,206.29 L710.72,206.34 L711.94,206.40 L713.16,206.45" stroke="#006400" stroke-width="1.6" stroke-dasharray="13.9 5.7 4.3 5.76" stroke-dashoffset="0.87"/>
</g>
<g font-family="&quot;Liberation Serif&quot;, serif" font-size="27" fill="#000">
<text x="62.48" y="250.65" font-size="29.0">−</text>
<text x="80.28" y="247.8">6</text>
<text x="160.15" y="250.65" font-size="29.0">−</text>
<text x="177.95" y="247.8">4</text>
<text x="257.81" y="250.65" font-size="29.0">−</text>
<text x="275.61" y="247.8">2</text>
<text x="469.10" y="247.8" text-anchor="middle">2</text>
<text x="566.76" y="247.8" text-anchor="middle">4</text>
<text x="664.43" y="247.8" text-anchor="middle">6</text>
<text x="355.8" y="125.3" text-anchor="end">0.5</text>
<text x="355.9" y="29.2" text-anchor="end">1.</text>
<text x="402.2" y="29.2">R</text><text x="419.7" y="33.2" font-size="20">z</text>
<text x="736.3" y="221.0" font-style="italic" font-size="26.6">δ</text>
<text x="744.3" y="205.9" font-size="17.7">(z)</text>
<text x="747.6" y="224.2" font-size="20.3">eff</text>
</g>
</svg>
</body></html>
